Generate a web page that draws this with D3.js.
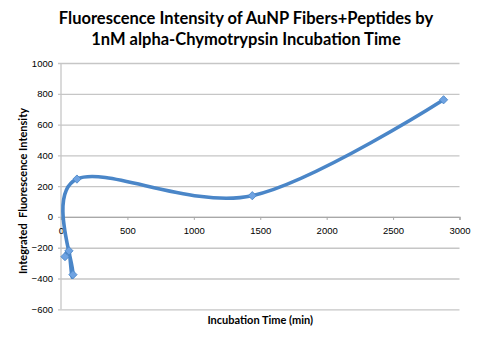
<!DOCTYPE html>
<html>
<head>
<meta charset="utf-8">
<script src="https://cdn.jsdelivr.net/npm/d3@7"></script>
<style>
  body { margin: 0; background: #fff; }
  svg { display: block; }
</style>
</head>
<body>
<div id="chart"></div>
<script>
// incubation time (min) and integrated fluorescence
var times = [30, 60, 90, 120, 1440, 2880];
var intensity = [-258, -220, -375, 246, 138, 761];
var xTicks = [0, 500, 1000, 1500, 2000, 2500, 3000];
var yTicks = [-600, -400, -200, 0, 200, 400, 600, 800, 1000];
var titleLines = ["Fluorescence Intensity of AuNP Fibers+Peptides by", "1nM alpha-Chymotrypsin Incubation Time"];

var width = 481, height = 339;
var plotLeft = 61, plotRight = 459.5, plotTop = 63, plotBottom = 309.3;

var svg = d3.select("#chart").append("svg")
    .attr("width", width)
    .attr("height", height);

var x = d3.scaleLinear().domain([0, 3000]).range([plotLeft, plotRight]);
var y = d3.scaleLinear().domain([-600, 1000]).range([plotBottom, plotTop]);

// horizontal gridlines + y ticks
var yAxis = svg.append("g")
    .attr("transform", "translate(" + plotLeft + ",0)")
    .call(d3.axisLeft(y).tickValues(yTicks).tickFormat(d3.format("d"))
        .tickSize(-(plotRight - plotLeft)).tickPadding(8));
yAxis.select(".domain").remove();
yAxis.selectAll(".tick line")
    .attr("x1", -3)
    .attr("stroke", "#c6c6c6")
    .attr("stroke-width", 1.3);
yAxis.selectAll(".tick text")
    .attr("font-family", "'Liberation Sans', Arial, sans-serif")
    .attr("font-size", 9.5)
    .attr("fill", "#000");

// vertical axis line
svg.append("line")
    .attr("x1", plotLeft).attr("x2", plotLeft)
    .attr("y1", plotTop).attr("y2", plotBottom)
    .attr("stroke", "#c6c6c6")
    .attr("stroke-width", 1.3);

// x axis sits on y = 0
var xAxis = svg.append("g")
    .attr("transform", "translate(0," + y(0) + ")")
    .call(d3.axisBottom(x).tickValues(xTicks).tickFormat(d3.format("d"))
        .tickSize(3).tickPadding(7));
xAxis.select(".domain")
    .attr("stroke", "#a8a8a8")
    .attr("stroke-width", 1.3);
xAxis.selectAll(".tick line").attr("stroke", "#a8a8a8");
xAxis.selectAll(".tick text")
    .attr("font-family", "'Liberation Sans', Arial, sans-serif")
    .attr("font-size", 9.5)
    .attr("fill", "#000");

// smoothed series line
var pts = times.map(function(t, i) { return [t, intensity[i]]; });
var line = d3.line()
    .x(function(d) { return x(d[0]); })
    .y(function(d) { return y(d[1]); })
    .curve(d3.curveCardinal.tension(0));

svg.append("path")
    .datum(pts)
    .attr("fill", "none")
    .attr("stroke", "#4a86c8")
    .attr("stroke-width", 3.6)
    .attr("stroke-linecap", "round")
    .attr("d", line);

// diamond markers
svg.selectAll(".marker")
    .data(pts)
    .enter().append("path")
    .attr("class", "marker")
    .attr("d", d3.symbol(d3.symbolSquare, 34))
    .attr("transform", function(d) { return "translate(" + x(d[0]) + "," + y(d[1]) + ") rotate(45)"; })
    .attr("fill", "#6fa3e2")
    .attr("stroke", "#4a86c8")
    .attr("stroke-width", 0.8);

// title
svg.append("text")
    .attr("text-anchor", "middle")
    .attr("font-family", "Lato, 'Open Sans', sans-serif")
    .attr("font-weight", "bold")
    .attr("font-size", 16.5)
    .attr("fill", "#000")
    .selectAll("tspan")
    .data(titleLines)
    .enter().append("tspan")
    .attr("x", 246)
    .attr("y", function(d, i) { return 24 + i * 20.5; })
    .text(function(d) { return d; });

// axis titles
svg.append("text")
    .attr("x", (plotLeft + plotRight) / 2)
    .attr("y", 324)
    .attr("text-anchor", "middle")
    .attr("font-family", "Lato, 'Open Sans', sans-serif")
    .attr("font-weight", "bold")
    .attr("font-size", 11)
    .text("Incubation Time (min)");

svg.append("text")
    .attr("transform", "translate(27,191) rotate(-90)")
    .attr("text-anchor", "middle")
    .attr("font-family", "Lato, 'Open Sans', sans-serif")
    .attr("font-weight", "bold")
    .attr("font-size", 11)
    .style("white-space", "pre")
    .text("Integrated  Fluorescence Intensity");
</script>
</body>
</html>
